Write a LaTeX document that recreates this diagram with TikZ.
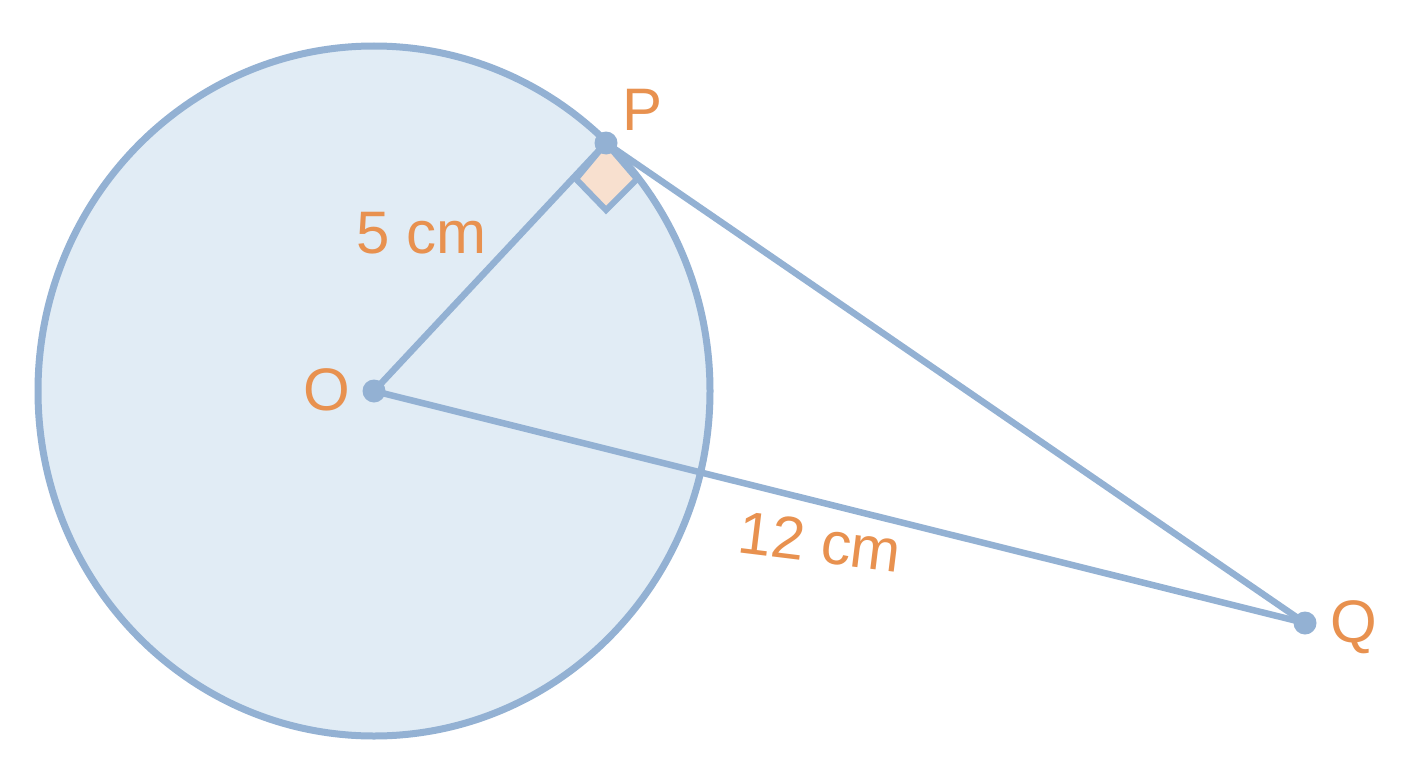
\documentclass[tikz,border=0pt]{standalone}
\usepackage{fontspec}
\setmainfont{Liberation Sans}
\definecolor{lineblue}{HTML}{93B1D3}
\definecolor{fillblue}{HTML}{E1ECF5}
\definecolor{lbl}{HTML}{E8914F}
\definecolor{sqfill}{HTML}{F8E0CF}
\tikzset{
  seg/.style={draw=lineblue, line width=6.5pt},
  dot/.style={circle, fill=lineblue, inner sep=0pt, minimum size=23pt},
  lab/.style={text=lbl, font=\fontsize{60}{62}\selectfont, inner sep=0pt}
}
\begin{document}
\begin{tikzpicture}[x=1pt,y=-1pt]
\useasboundingbox (0,0) rectangle (1408,768);
\fill[white] (0,0) rectangle (1408,768);
\draw[fill=fillblue, draw=lineblue, line width=7pt] (374,391) ellipse [x radius=336, y radius=345];
\coordinate (O) at (374,391);
\coordinate (P) at (606,143);
\coordinate (Q) at (1305,623);
\draw[seg] (O) -- (P);
\draw[seg] (O) -- (Q);
\draw[seg] (P) -- (Q);
\draw[seg, fill=sqfill, line width=6pt, line join=miter] (P) -- (576,179) -- (606,210) -- (637,179) -- cycle;
\node[dot] (Od) at (O) {};
\node[dot] (Pd) at (P) {};
\node[dot] (Qd) at (Q) {};
\node[lab] (Ol) at (327,390) {O};
\node[lab] (Pl) at (643,110) {P};
\node[lab] (Ql) at (1354,627) {Q};
\node[lab] (r) at (422,233) {5 cm};
\node[lab, rotate=-7] (d) at (820,542) {12 cm};
\end{tikzpicture}
\end{document}
